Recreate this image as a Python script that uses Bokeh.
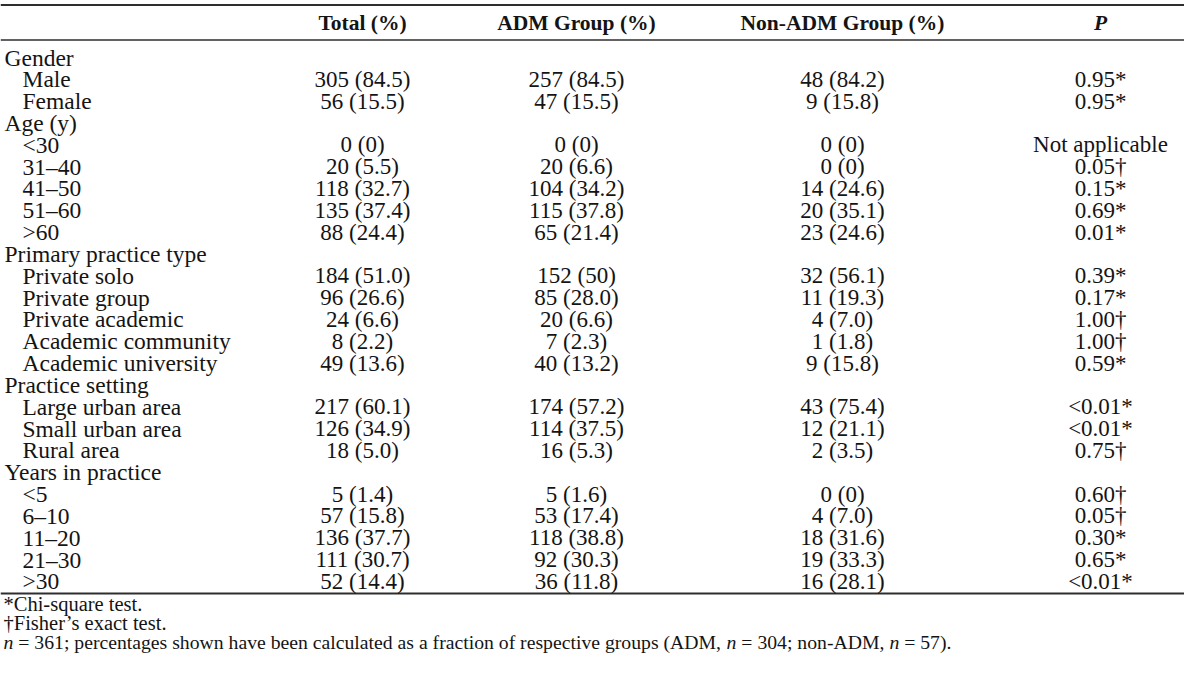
from bokeh.plotting import figure
from bokeh.models import ColumnDataSource, Range1d
from bokeh.core.properties import value
from bokeh.embed import file_html
from bokeh.resources import INLINE

# ---------------- data ----------------
columns = ["Total (%)", "ADM Group (%)", "Non-ADM Group (%)", "P"]

labels = ["Gender", "Male", "Female",
          "Age (y)", "<30", "31–40", "41–50", "51–60", ">60",
          "Primary practice type", "Private solo", "Private group", "Private academic",
          "Academic community", "Academic university",
          "Practice setting", "Large urban area", "Small urban area", "Rural area",
          "Years in practice", "<5", "6–10", "11–20", "21–30", ">30"]
is_section = [True, False, False,
              True, False, False, False, False, False,
              True, False, False, False, False, False,
              True, False, False, False,
              True, False, False, False, False, False]

total = ["", "305 (84.5)", "56 (15.5)",
         "", "0 (0)", "20 (5.5)", "118 (32.7)", "135 (37.4)", "88 (24.4)",
         "", "184 (51.0)", "96 (26.6)", "24 (6.6)", "8 (2.2)", "49 (13.6)",
         "", "217 (60.1)", "126 (34.9)", "18 (5.0)",
         "", "5 (1.4)", "57 (15.8)", "136 (37.7)", "111 (30.7)", "52 (14.4)"]
adm = ["", "257 (84.5)", "47 (15.5)",
       "", "0 (0)", "20 (6.6)", "104 (34.2)", "115 (37.8)", "65 (21.4)",
       "", "152 (50)", "85 (28.0)", "20 (6.6)", "7 (2.3)", "40 (13.2)",
       "", "174 (57.2)", "114 (37.5)", "16 (5.3)",
       "", "5 (1.6)", "53 (17.4)", "118 (38.8)", "92 (30.3)", "36 (11.8)"]
non_adm = ["", "48 (84.2)", "9 (15.8)",
           "", "0 (0)", "0 (0)", "14 (24.6)", "20 (35.1)", "23 (24.6)",
           "", "32 (56.1)", "11 (19.3)", "4 (7.0)", "1 (1.8)", "9 (15.8)",
           "", "43 (75.4)", "12 (21.1)", "2 (3.5)",
           "", "0 (0)", "4 (7.0)", "18 (31.6)", "19 (33.3)", "16 (28.1)"]
p_values = ["", "0.95*", "0.95*",
            "", "Not applicable", "0.05†", "0.15*", "0.69*", "0.01*",
            "", "0.39*", "0.17*", "1.00†", "1.00†", "0.59*",
            "", "<0.01*", "<0.01*", "0.75†",
            "", "0.60†", "0.05†", "0.30*", "0.65*", "<0.01*"]

footnote1 = "*Chi-square test."
footnote2 = "†Fisher’s exact test."
# (text, italic?)
footnote3 = [("n", True), (" = 361; percentages shown have been calculated as a fraction of respective groups (ADM, ", False),
             ("n", True), (" = 304; non-ADM, ", False), ("n", True), (" = 57).", False)]

# ---------------- layout ----------------
W, H = 1184, 660
FONT = "Liberation Serif"
INK = "#141414"
RULE = "#2e2e2e"

col_x = [362, 576, 842, 1100]
row_y0, row_step = 57.0, 21.83
ys = [row_y0 + i * row_step for i in range(len(labels))]
header_y = 22.5
top_rule, head_rule, bottom_rule = 4.5, 39.5, 593.0

p = figure(width=W, height=H, x_range=Range1d(0, W), y_range=Range1d(H, 0),
           output_backend="svg", toolbar_location=None, min_border=0)
p.axis.visible = False
p.grid.visible = False
p.outline_line_color = None
p.background_fill_color = "white"

# rules
p.segment(x0=[0, 0, 0], x1=[W, W, W], y0=[top_rule, head_rule, bottom_rule],
          y1=[top_rule, head_rule, bottom_rule], line_color=RULE, line_width=[2.2, 1.6, 2.2])

# header
p.text(x=col_x[:3], y=[header_y] * 3, text=columns[:3], text_font=value(FONT),
       text_font_size="21.5px", text_font_style="bold", text_align="center",
       text_baseline="middle", text_color=INK)
p.text(x=[col_x[3]], y=[header_y], text=[columns[3]], text_font=value(FONT),
       text_font_size="21.5px", text_font_style="bold italic", text_align="center",
       text_baseline="middle", text_color=INK)

# row labels
lab_x = [4 if s else 22 for s in is_section]
src = ColumnDataSource(dict(x=lab_x, y=ys, t=labels))
p.text(x="x", y="y", text="t", source=src, text_font=value(FONT), text_font_size="23.5px",
       text_align="left", text_baseline="middle", text_color=INK)

# data columns
for cx, vals in zip(col_x, [total, adm, non_adm, p_values]):
    s = ColumnDataSource(dict(x=[cx] * len(vals), y=ys, t=vals))
    p.text(x="x", y="y", text="t", source=s, text_font=value(FONT), text_font_size="23px",
           text_align="center", text_baseline="middle", text_color=INK)

# footnotes
p.text(x=[3, 3], y=[603, 622], text=[footnote1, footnote2], text_font=value(FONT),
       text_font_size="20.5px", text_align="left", text_baseline="middle", text_color=INK)

# Times-compatible advance widths (per 1000 em) to place italic pieces
TW = {" ": 250, "(": 333, ")": 333, ",": 250, "-": 333, ".": 250, ";": 278, "=": 564,
      "A": 722, "D": 722, "M": 889, "a": 444, "b": 500, "c": 444, "d": 500, "e": 444,
      "f": 333, "g": 500, "h": 500, "i": 278, "l": 278, "n": 500, "o": 500, "p": 500,
      "r": 333, "s": 389, "t": 278, "u": 500, "v": 500, "w": 722}
def em(s):
    return sum(TW.get(ch, 500) for ch in s) / 1000.0

target_width = 948.0
total_em = sum(em(t) for t, _ in footnote3)
fs3 = target_width / total_em
x = 3.0
for t, it in footnote3:
    lead = len(t) - len(t.lstrip(" "))
    shown = t.strip(" ")
    p.text(x=[x + em(" " * lead) * fs3], y=[641], text=[shown], text_font=value(FONT),
           text_font_size=f"{fs3:.2f}px", text_font_style="italic" if it else "normal",
           text_align="left", text_baseline="middle", text_color=INK)
    x += em(t) * fs3

open("out.html", "w").write(file_html(p, INLINE))
